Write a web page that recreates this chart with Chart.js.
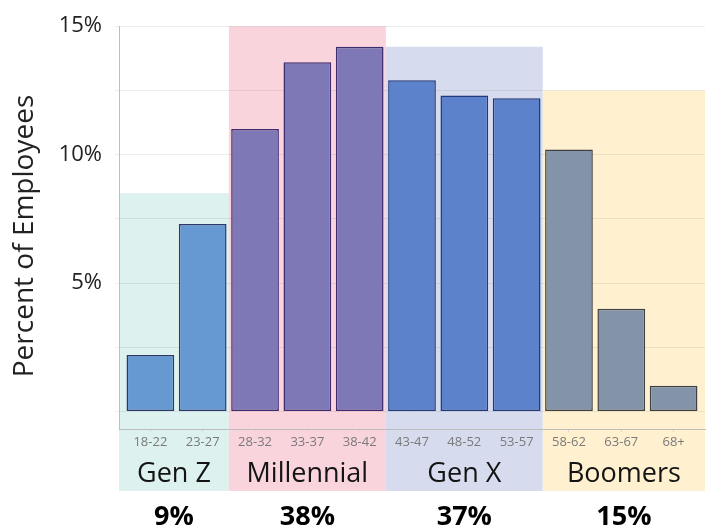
<!DOCTYPE html>
<html>
<head>
<meta charset="utf-8">
<title>Employees by Age Group</title>
<script src="https://cdn.jsdelivr.net/npm/chart.js@4.4.1/dist/chart.umd.min.js"></script>
<style>
  html, body { margin: 0; padding: 0; background: #ffffff; }
  #wrap { width: 707px; height: 529px; }
</style>
</head>
<body>
<div id="wrap"><canvas id="chart" width="707" height="529"></canvas></div>
<script>
// Age bands (x axis) and the share of employees in each band (%)
const ageBands = ['18-22', '23-27', '28-32', '33-37', '38-42', '43-47', '48-52', '53-57', '58-62', '63-67', '68+'];
const employeeShare = [2.2, 7.3, 11.0, 13.6, 14.2, 12.9, 12.3, 12.2, 10.2, 4.0, 1.0];

// Generations: name, first/last age band index, total share label, shaded panel height (%)
const generationNames = ['Gen Z', 'Millennial', 'Gen X', 'Boomers'];
const generationFirst = [0, 2, 5, 8];
const generationLast = [1, 4, 7, 10];
const generationTotals = ['9%', '38%', '37%', '15%'];
const generationPanelTop = [8.5, 15, 14.2, 12.5];

// Y axis ticks (%)
const yTickValues = [0, 2.5, 5, 7.5, 10, 12.5, 15];
const yTickLabelled = [5, 10, 15];

// Styling
const barFill = ['#6699D2', '#7F78B6', '#5B82CB', '#8494A8'];
const barEdge = ['#2A3A6C', '#3E2D6E', '#22387A', '#3E4246'];
const panelFill = ['#DDF1EE', '#FAD4DC', '#D6DBEE', '#FFF1CF'];
const FONT = '"Open Sans", "Noto Sans", sans-serif';

function generationOf(i) {
  for (let g = 0; g < generationNames.length; g++) {
    if (i >= generationFirst[g] && i <= generationLast[g]) return g;
  }
  return 0;
}

const PANEL_BOTTOM = 491;

function panelEdges(x, g) {
  const left = x.getPixelForValue(g === 0 ? x.min : generationFirst[g] - 0.5);
  const right = x.getPixelForValue(g === generationNames.length - 1 ? x.max : generationLast[g] + 0.5);
  return [left, right];
}

// Shaded generation panels behind the bars, reaching down under the labels
const panelPlugin = {
  id: 'generationPanels',
  beforeDraw(chart) {
    const { ctx, scales: { x, y } } = chart;
    ctx.save();
    generationNames.forEach((name, g) => {
      const [left, right] = panelEdges(x, g);
      const top = y.getPixelForValue(generationPanelTop[g]);
      ctx.fillStyle = panelFill[g];
      ctx.fillRect(left, top, right - left, PANEL_BOTTOM - top);
    });
    ctx.restore();
  }
};

// Generation names, totals and the y axis title
const labelPlugin = {
  id: 'generationLabels',
  afterDraw(chart) {
    const { ctx, scales: { x } } = chart;
    ctx.save();
    ctx.textAlign = 'center';
    ctx.textBaseline = 'alphabetic';
    generationNames.forEach((name, g) => {
      const [left, right] = panelEdges(x, g);
      const cx = (left + right) / 2;
      ctx.fillStyle = '#141414';
      ctx.font = '27px ' + FONT;
      ctx.fillText(name, cx, 482);
      ctx.fillStyle = '#000000';
      ctx.font = 'bold 27px ' + FONT;
      ctx.fillText(generationTotals[g], cx, 525);
    });
    ctx.translate(33, 236);
    ctx.rotate(-Math.PI / 2);
    ctx.fillStyle = '#222222';
    ctx.font = '28px ' + FONT;
    ctx.fillText('Percent of Employees', 0, 0);
    ctx.restore();
  }
};

const ctx = document.getElementById('chart').getContext('2d');
new Chart(ctx, {
  type: 'bar',
  data: {
    datasets: [{
      data: employeeShare.map((v, i) => ({ x: i, y: v })),
      backgroundColor: employeeShare.map((v, i) => barFill[generationOf(i)]),
      borderColor: employeeShare.map((v, i) => barEdge[generationOf(i)]),
      borderWidth: 1.5,
      borderSkipped: false,
      categoryPercentage: 1,
      barPercentage: 0.912
    }]
  },
  options: {
    responsive: false,
    animation: false,
    layout: { padding: { top: 16, right: 2, left: 0, bottom: 0 } },
    plugins: {
      legend: { display: false },
      tooltip: { enabled: false }
    },
    scales: {
      x: {
        type: 'linear',
        offset: false,
        min: -0.6,
        max: 10.6,
        afterBuildTicks(scale) {
          scale.ticks = ageBands.map((b, i) => ({ value: i }));
        },
        afterFit(scale) { scale.height = 100; },
        ticks: {
          autoSkip: false,
          maxRotation: 0,
          padding: 2,
          color: '#7a7a7a',
          font: { family: FONT, size: 13 },
          callback: (v) => ageBands[v]
        },
        grid: { drawOnChartArea: false, offset: false, tickLength: 3, color: '#d8d8d8' },
        border: { display: true, color: '#bdbdbd', width: 1 }
      },
      y: {
        min: -0.68,
        max: 15,
        afterBuildTicks(scale) {
          scale.ticks = yTickValues.map(v => ({ value: v }));
        },
        afterFit(scale) { scale.width = 119; },
        ticks: {
          padding: 13,
          color: '#222222',
          font: { family: FONT, size: 22 },
          callback: (v) => yTickLabelled.includes(v) ? v + '%' : ''
        },
        grid: { color: 'rgba(0,0,0,0.07)', tickLength: 4 },
        border: { display: true, color: '#bdbdbd', width: 1 }
      }
    }
  },
  plugins: [panelPlugin, labelPlugin]
});
</script>
</body>
</html>
